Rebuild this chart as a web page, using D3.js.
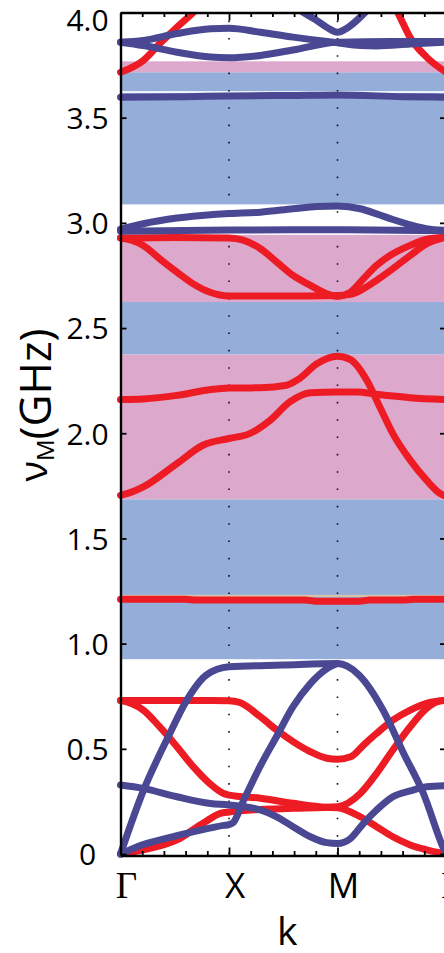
<!DOCTYPE html>
<html>
<head>
<meta charset="utf-8">
<script src="https://cdn.jsdelivr.net/npm/d3@7"></script>
<style>
  html, body { margin: 0; padding: 0; background: #fff; }
  svg { display: block; }
</style>
</head>
<body>
<svg id="chart" width="444" height="953"></svg>
<script>
// High-symmetry path positions and labels
const kTicks = [0, 1, 2, 3];
const kLabels = ["Γ", "X", "M", "Γ"];
const kMinorTicks = [0.2, 0.4, 0.6, 0.8, 1.2, 1.4, 1.6, 1.8, 2.2, 2.4, 2.6, 2.8];

// Frequency axis ticks (GHz)
const yTicks = [0, 0.5, 1, 1.5, 2, 2.5, 3, 3.5, 4];
const yTickLabels = ["0", "0.5", "1.0", "1.5", "2.0", "2.5", "3.0", "3.5", "4.0"];

// Shaded frequency ranges [lower, upper] in GHz
const blueRanges = [[0.926, 1.686], [2.374, 2.624], [3.088, 3.618], [3.626, 3.716]];
const pinkRanges = [[1.686, 2.374], [2.624, 2.943], [3.716, 3.768]];
const thinRanges = [[1.222, 1.232]];

// Red bands: [k, frequency] pairs
const red1 = [[0,0.73],[0.5,0.73],[1.0,0.729],[1.1,0.72],[1.29,0.652],[1.44,0.589],[1.59,0.534],[1.75,0.486],[1.9,0.455],[2.0,0.45],[2.12,0.462],[2.24,0.518],[2.36,0.573],[2.51,0.636],[2.67,0.684],[2.82,0.716],[3.0,0.73]];
const red2 = [[0,0.73],[0.1,0.715],[0.21,0.684],[0.36,0.605],[0.52,0.51],[0.67,0.415],[0.82,0.336],[0.95,0.288],[1.0,0.28],[1.29,0.265],[1.59,0.241],[1.9,0.222],[2.0,0.22],[2.21,0.177],[2.36,0.13],[2.51,0.082],[2.67,0.043],[2.82,0.02],[3.0,0.0]];
const red3 = [[0,0],[0.21,0.02],[0.52,0.067],[0.76,0.146],[0.92,0.193],[1.0,0.2],[1.29,0.212],[1.59,0.217],[2.0,0.225],[2.21,0.288],[2.36,0.383],[2.51,0.494],[2.67,0.605],[2.82,0.692],[2.93,0.725],[3.0,0.73]];
const red4 = [[0,1.211],[0.6,1.211],[0.7,1.207],[1.7,1.207],[1.8,1.202],[2.2,1.202],[2.3,1.207],[2.6,1.207],[2.7,1.211],[3.0,1.211]];
const red5 = [[0,2.16],[0.21,2.163],[0.52,2.18],[0.82,2.207],[1.0,2.215],[1.29,2.216],[1.53,2.228],[1.65,2.26],[1.81,2.33],[2.0,2.366],[2.12,2.35],[2.27,2.252],[2.39,2.125],[2.51,1.998],[2.67,1.872],[2.82,1.777],[2.95,1.712],[3.0,1.70]];
const red6 = [[0,1.705],[0.1,1.72],[0.21,1.745],[0.52,1.856],[0.76,1.943],[1.0,1.975],[1.19,1.998],[1.38,2.062],[1.56,2.149],[1.75,2.193],[2.0,2.196],[2.18,2.196],[2.36,2.185],[2.67,2.169],[3.0,2.16]];
const red7 = [[0,2.928],[0.5,2.93],[1.0,2.928],[1.13,2.918],[1.29,2.877],[1.44,2.814],[1.59,2.75],[1.75,2.703],[1.9,2.663],[2.0,2.651],[2.12,2.671],[2.24,2.735],[2.36,2.798],[2.51,2.853],[2.67,2.893],[2.82,2.921],[3.0,2.932]];
const red8 = [[0,2.928],[0.1,2.918],[0.21,2.893],[0.36,2.83],[0.52,2.766],[0.67,2.71],[0.82,2.671],[1.0,2.652],[1.44,2.652],[2.0,2.655],[2.12,2.66],[2.24,2.687],[2.36,2.727],[2.51,2.782],[2.67,2.845],[2.82,2.90],[3.0,2.932]];
const red9 = [[0,3.716],[0.21,3.772],[0.36,3.851],[0.52,3.93],[0.67,4.0],[0.8,4.07]];
const red10 = [[2.45,4.09],[2.545,4.01],[2.576,3.978],[2.667,3.883],[2.821,3.788],[3.0,3.716]];

// Blue bands: [k, frequency] pairs
const blue1 = [[0,0],[0.21,0.30],[0.44,0.557],[0.61,0.73],[0.79,0.85],[1.0,0.89],[1.5,0.898],[2.0,0.905],[2.2,0.85],[2.42,0.684],[2.61,0.478],[2.79,0.29],[2.97,0.035],[3.0,0]];
const blue2 = [[0,0],[0.21,0.045],[0.52,0.087],[0.83,0.124],[0.95,0.136],[1.0,0.14],[1.04,0.15],[1.13,0.25],[1.29,0.42],[1.44,0.56],[1.59,0.70],[1.75,0.81],[1.9,0.88],[2.0,0.905]];
const blue3 = [[0,0.328],[0.21,0.312],[0.52,0.272],[0.83,0.24],[1.0,0.233],[1.29,0.209],[1.44,0.177],[1.59,0.13],[1.75,0.082],[1.9,0.054],[2.0,0.05],[2.12,0.074],[2.24,0.146],[2.36,0.209],[2.51,0.272],[2.67,0.30],[2.82,0.32],[3.0,0.325]];
const blue4 = [[0,2.97],[0.21,2.996],[0.52,3.023],[0.83,3.039],[1.0,3.044],[1.29,3.051],[1.59,3.067],[1.81,3.078],[2.0,3.08],[2.21,3.067],[2.36,3.043],[2.51,3.016],[2.67,2.991],[2.82,2.972],[3.0,2.964]];
const blue5 = [[0,2.96],[1.0,2.966],[2.0,2.967],[3.0,2.963]];
const blue6 = [[0,3.597],[0.6,3.6],[1.0,3.603],[1.6,3.606],[2.0,3.608],[2.6,3.6],[3.0,3.597]];
const blue7 = [[0,3.859],[0.21,3.867],[0.52,3.9],[0.83,3.923],[1.0,3.925],[1.29,3.906],[1.59,3.883],[2.0,3.856],[2.21,3.843],[2.36,3.841],[2.67,3.85],[3.0,3.859]];
const blue8 = [[0,3.859],[0.21,3.843],[0.52,3.811],[0.83,3.788],[1.0,3.785],[1.29,3.796],[1.59,3.822],[2.0,3.859],[2.5,3.862],[3.0,3.862]];
const blue9 = [[1.55,4.05],[1.655,4.01],[1.8,3.965],[1.9,3.93],[2.0,3.906],[2.1,3.93],[2.24,3.993],[2.33,4.04]];

const redBands = [red1, red2, red3, red4, red5, red6, red7, red8, red9, red10];
const blueBands = [blue1, blue2, blue3, blue4, blue5, blue6, blue7, blue8, blue9];

const RED = "#ED1C24", BLUE = "#4A4893", BAND_BLUE = "#95AED9", BAND_PINK = "#DCA8CC";

const svg = d3.select("#chart");
const x = d3.scaleLinear().domain([0, 3]).range([120.5, 446]);
const y = d3.scaleLinear().domain([0, 4]).range([854, 12.5]);
const [x0, x1] = x.range();

// shaded ranges
const drawRanges = (data, color) => svg.append("g").selectAll("rect").data(data).join("rect")
  .attr("x", x0).attr("width", x1 - x0)
  .attr("y", d => y(d[1])).attr("height", d => y(d[0]) - y(d[1]))
  .attr("fill", color);
drawRanges(blueRanges, BAND_BLUE);
drawRanges(pinkRanges, BAND_PINK);
drawRanges(thinRanges, "#D9C2A6");

// dotted gridlines at X and M
svg.append("g").selectAll("line").data([1, 2]).join("line")
  .attr("x1", d => x(d)).attr("x2", d => x(d))
  .attr("y1", y(0)).attr("y2", 20)
  .attr("stroke", "#111").attr("stroke-width", 1.6)
  .attr("stroke-dasharray", "1.6 15.73");

// band curves
svg.append("clipPath").attr("id", "plotclip").append("rect")
  .attr("x", x0 - 7).attr("y", y(4)).attr("width", x1 - x0 + 14).attr("height", y(0) - y(4) + 8);

const line = d3.line().x(d => x(d[0])).y(d => y(d[1])).curve(d3.curveMonotoneX);
const curves = svg.append("g").attr("clip-path", "url(#plotclip)")
  .attr("fill", "none").attr("stroke-width", 7).attr("stroke-linejoin", "round").attr("stroke-linecap", "round");
curves.append("g").selectAll("path").data(redBands).join("path").attr("d", line).attr("stroke", RED);
curves.append("g").selectAll("path").data(blueBands).join("path").attr("d", line).attr("stroke", BLUE);

// frame and ticks
const styleAxis = g => {
  g.select(".domain").attr("stroke", "#000").attr("stroke-width", 2.4);
  g.selectAll(".tick line").attr("stroke", "#000").attr("stroke-width", 1.8);
};
const left = svg.append("g").attr("transform", `translate(${x0},0)`)
  .call(d3.axisLeft(y).tickValues(yTicks).tickSizeInner(-6).tickSizeOuter(0)
    .tickFormat((d, i) => yTickLabels[i]))
  .call(styleAxis);
left.selectAll(".tick text")
  .attr("x", -33).attr("text-anchor", "middle")
  .attr("font-family", "'Open Sans', sans-serif").attr("font-size", 30).attr("fill", "#000")
  .attr("dy", (d, i) => i === yTicks.length - 1 ? "0.6em" : "0.36em");

svg.append("g").attr("transform", `translate(${x1},0)`)
  .call(d3.axisRight(y).tickValues(yTicks).tickSizeInner(-6).tickSizeOuter(0).tickFormat(""))
  .call(styleAxis);

const bottomY = y(0) + 1.5;
svg.append("g").attr("transform", `translate(0,${bottomY})`)
  .call(d3.axisBottom(x).tickValues(kTicks).tickSizeInner(-8).tickSizeOuter(0).tickFormat(""))
  .call(styleAxis);
svg.append("g").attr("transform", `translate(0,${bottomY})`)
  .call(d3.axisBottom(x).tickValues(kMinorTicks).tickSizeInner(-4.5).tickSizeOuter(0).tickFormat(""))
  .call(styleAxis).call(g => g.select(".domain").remove());
svg.append("g").attr("transform", `translate(0,${y(4)})`)
  .call(d3.axisTop(x).tickValues(kTicks).tickSizeInner(-8).tickSizeOuter(0).tickFormat(""))
  .call(styleAxis);
svg.append("g").attr("transform", `translate(0,${y(4)})`)
  .call(d3.axisTop(x).tickValues(kMinorTicks).tickSizeInner(-4.5).tickSizeOuter(0).tickFormat(""))
  .call(styleAxis).call(g => g.select(".domain").remove());

// path labels
svg.append("g").selectAll("text").data(kTicks).join("text")
  .attr("x", d => x(d) + 6).attr("y", 898)
  .attr("text-anchor", "middle").attr("fill", "#000")
  .attr("font-family", (d, i) => kLabels[i] === "Γ" ? "'Liberation Serif', serif" : "'Open Sans', sans-serif")
  .attr("font-size", (d, i) => kLabels[i] === "Γ" ? 37 : 35)
  .text((d, i) => kLabels[i]);

// axis titles
svg.append("text").attr("x", (x0 + x1) / 2 + 4).attr("y", 945)
  .attr("text-anchor", "middle").attr("font-family", "'Open Sans', sans-serif")
  .attr("font-size", 39).attr("fill", "#000").text("k");

const yt = svg.append("text").attr("transform", "translate(51,405) rotate(-90)")
  .attr("text-anchor", "middle").attr("font-family", "'Open Sans', sans-serif")
  .attr("font-size", 44).attr("fill", "#000");
yt.append("tspan").attr("dy", -4).attr("font-size", 38).text("ν");
yt.append("tspan").attr("dy", 7).attr("font-size", 24).text("M");
yt.append("tspan").attr("dy", -3).text("(GHz)");
</script>
</body>
</html>
